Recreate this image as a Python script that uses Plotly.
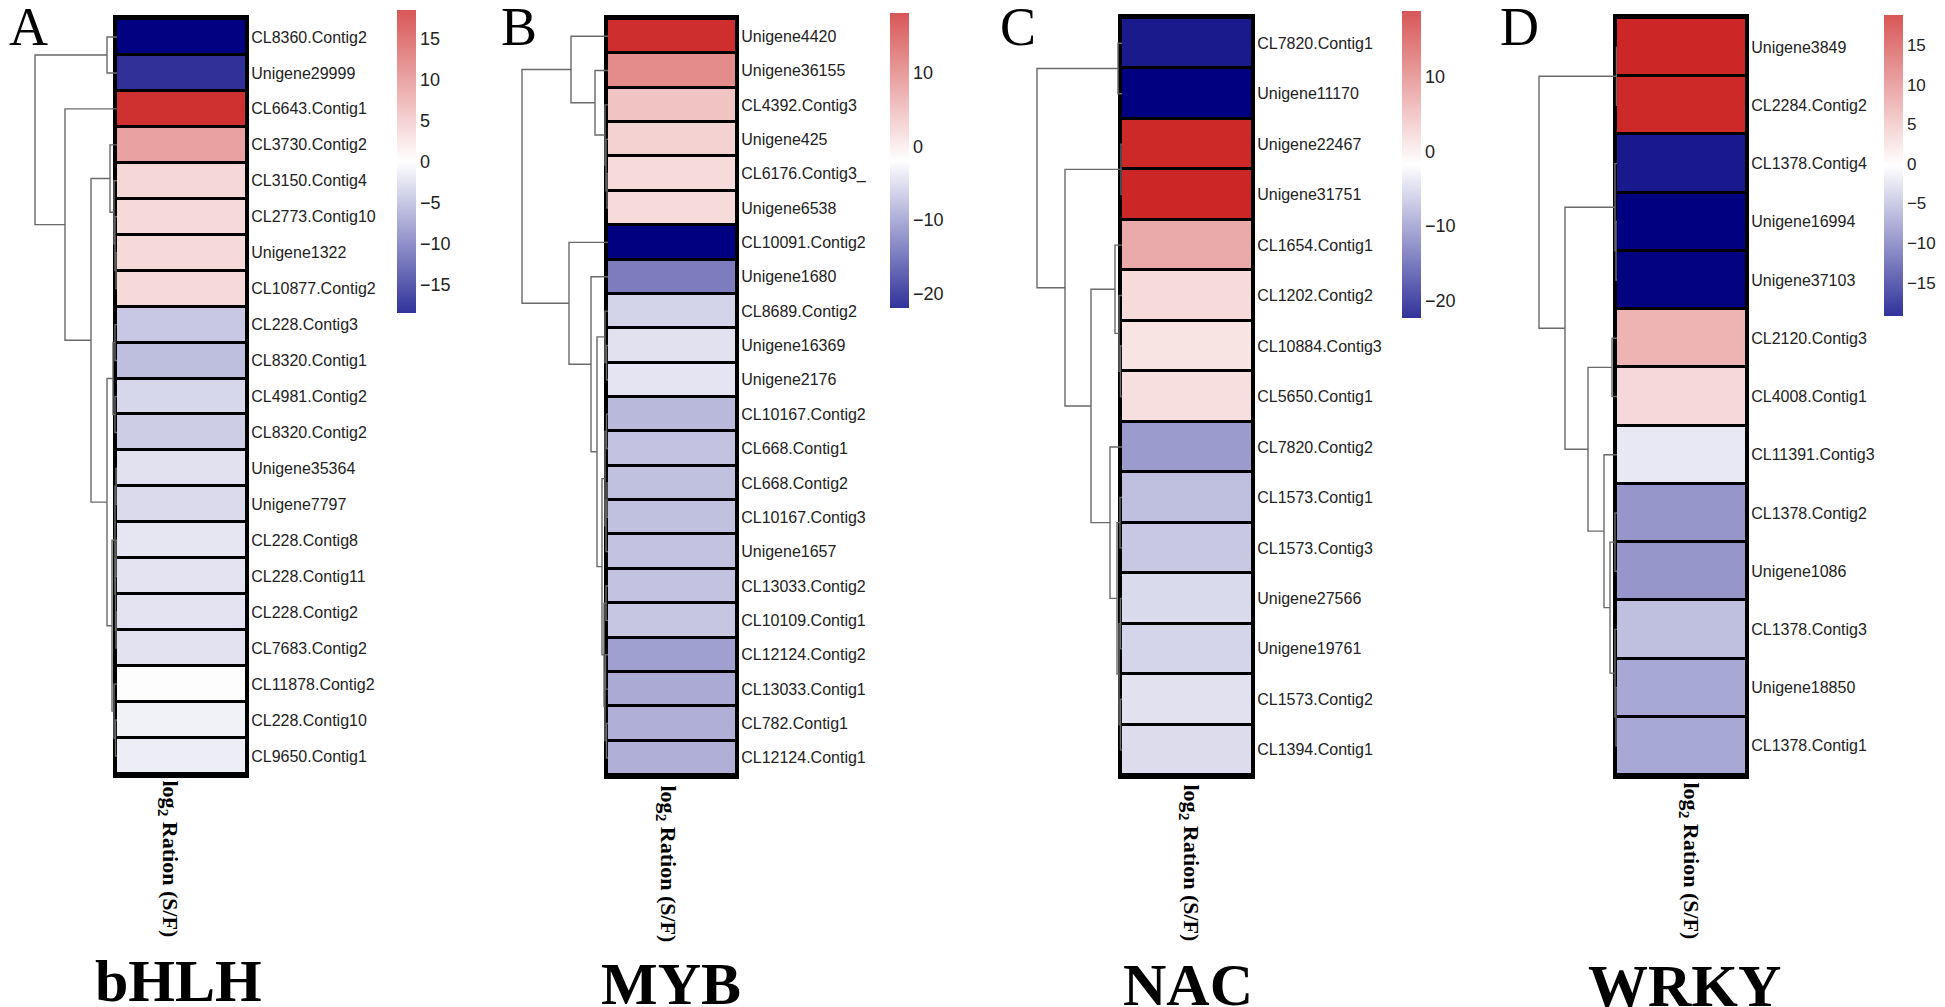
import plotly.graph_objects as go

# window is 1945x1007; the page body adds an 8px margin, so the figure is drawn 8px in
WIN_W, WIN_H = 1945, 1007
OFF = 8
W, H = WIN_W - OFF, WIN_H - OFF

# ---------------- data ----------------
A_genes = ["CL8360.Contig2", "Unigene29999", "CL6643.Contig1", "CL3730.Contig2", "CL3150.Contig4",
           "CL2773.Contig10", "Unigene1322", "CL10877.Contig2", "CL228.Contig3", "CL8320.Contig1",
           "CL4981.Contig2", "CL8320.Contig2", "Unigene35364", "Unigene7797", "CL228.Contig8",
           "CL228.Contig11", "CL228.Contig2", "CL7683.Contig2", "CL11878.Contig2", "CL228.Contig10",
           "CL9650.Contig1"]
A_vals = [-18.4, -15.0, 17.6, 8.0, 3.4, 3.2, 3.2, 3.2, -4.0, -4.7, -2.9, -3.6, -2.2, -2.7, -1.8,
          -2.0, -2.0, -2.1, 0.2, -1.0, -1.3]
A_tree = [[0, 1, 10],
          [2, [[3, [4, [5, [6, 7, 1], 2], 3], 7],
               [[[8, 9, 2], [10, 11, 2], 4],
                [[[12, 13, 1], [[14, 15, 1], [16, 17, 1], 1.5], 2],
                 [18, [19, 20, 1.5], 3], 5], 10], 26], 52], 82]

B_genes = ["Unigene4420", "Unigene36155", "CL4392.Contig3", "Unigene425", "CL6176.Contig3_",
           "Unigene6538", "CL10091.Contig2", "Unigene1680", "CL8689.Contig2", "Unigene16369",
           "Unigene2176", "CL10167.Contig2", "CL668.Contig1", "CL668.Contig2", "CL10167.Contig3",
           "Unigene1657", "CL13033.Contig2", "CL10109.Contig1", "CL12124.Contig2", "CL13033.Contig1",
           "CL782.Contig1", "CL12124.Contig1"]
B_vals = [17.5, 8.8, 3.6, 2.3, 1.5, 1.5, -22.0, -12.2, -5.4, -4.3, -4.0, -7.4, -6.6, -6.9, -6.9,
          -6.6, -6.6, -6.4, -9.4, -8.6, -8.2, -8.2]
B_tree = [[0, [1, [2, [3, [4, 5, 1], 2], 3], 13], 37],
          [6, [7, [[8, [9, 10, 1.5], 3],
                   [[[11, 12, 1.5], [[13, 14, 1], 15, 2], 3],
                    [[16, 17, 2], [[18, 19, 2.5], [20, 21, 1.5], 3], 4], 6], 11], 17], 39], 86]

C_genes = ["CL7820.Contig1", "Unigene11170", "Unigene22467", "Unigene31751", "CL1654.Contig1",
           "CL1202.Contig2", "CL10884.Contig3", "CL5650.Contig1", "CL7820.Contig2", "CL1573.Contig1",
           "CL1573.Contig3", "Unigene27566", "Unigene19761", "CL1573.Contig2", "CL1394.Contig1"]
C_vals = [-20.2, -22.3, 18.5, 18.8, 6.3, 1.7, 0.8, 1.3, -9.8, -6.9, -6.2, -4.7, -5.2, -4.2, -4.6]
C_tree = [[0, 1, 4],
          [[2, 3, 1],
           [[4, [5, [6, 7, 1.5], 3], 7],
            [8, [[9, 10, 2], [[11, 12, 1.5], [13, 14, 1.5], 3], 5], 12], 31], 57], 85]

D_genes = ["Unigene3849", "CL2284.Contig2", "CL1378.Contig4", "Unigene16994", "Unigene37103",
           "CL2120.Contig3", "CL4008.Contig1", "CL11391.Contig3", "CL1378.Contig2", "Unigene1086",
           "CL1378.Contig3", "Unigene18850", "CL1378.Contig1"]
D_vals = [18.8, 18.5, -17.3, -19.2, -19.0, 6.4, 3.2, -1.9, -8.0, -8.0, -5.0, -6.7, -6.7]
D_tree = [[0, 1, 0.5],
          [[2, [3, 4, 1], 2],
           [[5, 6, 5], [7, [[8, 9, 2], [10, [11, 12, 1], 2], 7], 13], 29], 52], 78]

panel_letters = ["A", "B", "C", "D"]
family_names = ["bHLH", "MYB", "NAC", "WRKY"]
col_label = "log<sub>2</sub> Ration (S/F)"
color_limits = [(-18.5, 18.5), (-22.0, 18.2), (-22.3, 18.8), (-19.2, 18.8)]
colorbar_ticks = [[-15, -10, -5, 0, 5, 10, 15], [-20, -10, 0, 10], [-20, -10, 0, 10],
                  [-15, -10, -5, 0, 5, 10, 15]]
dendro_span = 100  # distance units shown to the left of each heatmap

panels_genes = [A_genes, B_genes, C_genes, D_genes]
panels_vals = [A_vals, B_vals, C_vals, D_vals]
panels_trees = [A_tree, B_tree, C_tree, D_tree]

# ---------------- layout (window pixel positions) ----------------
heat_left = [117, 608, 1122, 1617]
heat_right = [245, 735, 1251, 1745]
heat_top = [19, 19, 18, 18]
heat_bottom = [774, 775, 775, 775]
cb_left = [397, 890, 1402, 1884]
cb_top = [10, 13, 11, 15]
cb_bottom = [313, 308, 318, 316]
cb_font = [18, 18, 18, 17]
letter_x = [7, 499, 998, 1498]
letter_mid_y = [27, 27, 27, 27]
label_cx = [169, 667, 1190, 1690]
label_top = [778, 783, 782, 780]
title_mid_y = [981, 984, 985, 986]

heat_scale = [[0, "#000080"], [0.5, "#ffffff"], [1, "#cd2626"]]
bar_scale = [[0, "#31339b"], [0.5, "#ffffff"], [1, "#d85757"]]


def px_x(v):
    return (v - OFF) / W


def px_y(v):
    return 1 - (v - OFF) / H


def dendro_segments(node, xs, ys):
    """Return (y_position, height) of node and append its drawing segments."""
    if isinstance(node, int):
        return float(node), 0.0
    left, right, h = node
    yl, hl = dendro_segments(left, xs, ys)
    yr, hr = dendro_segments(right, xs, ys)
    xs.extend([hl, h, h, hr, None])
    ys.extend([yl, yl, yr, yr, None])
    return (yl + yr) / 2, h


fig = go.Figure()
layout = dict(width=W, height=H, margin=dict(l=0, r=0, t=0, b=0),
              paper_bgcolor="white", plot_bgcolor="white", showlegend=False)
shapes = []
annotations = []

for p in range(4):
    genes = panels_genes[p]
    vals = panels_vals[p]
    n = len(genes)
    zmin, zmax = color_limits[p]
    hx = 2 * p + 1
    dx = 2 * p + 2
    yi = p + 1
    hx_ref = "x" if hx == 1 else f"x{hx}"
    dx_ref = f"x{dx}"
    y_ref = "y" if yi == 1 else f"y{yi}"
    hx_key = "xaxis" if hx == 1 else f"xaxis{hx}"
    dx_key = f"xaxis{dx}"
    y_key = "yaxis" if yi == 1 else f"yaxis{yi}"

    # heatmap column
    fig.add_trace(go.Heatmap(
        z=[[v] for v in vals], x=[0], y=list(range(n)),
        colorscale=heat_scale, zmin=zmin, zmax=zmax, showscale=False,
        ygap=3, xaxis=hx_ref, yaxis=y_ref, hoverinfo="skip"))

    # dendrogram
    xs, ys = [], []
    dendro_segments(panels_trees[p], xs, ys)
    fig.add_trace(go.Scatter(
        x=xs, y=ys, mode="lines", line=dict(color="#6a6a6a", width=1.4),
        xaxis=dx_ref, yaxis=y_ref, hoverinfo="skip"))

    # colour key
    fig.add_trace(go.Scatter(
        x=[None], y=[None], mode="markers", xaxis=dx_ref, yaxis=y_ref,
        marker=dict(color=[zmin, zmax], cmin=zmin, cmax=zmax, colorscale=bar_scale,
                    showscale=True,
                    colorbar=dict(
                        thickness=19, thicknessmode="pixels",
                        len=cb_bottom[p] - cb_top[p], lenmode="pixels",
                        x=px_x(cb_left[p]), xanchor="left", xpad=0,
                        y=px_y(cb_top[p]), yanchor="top", ypad=0,
                        outlinewidth=0, ticks="", tickvals=colorbar_ticks[p],
                        tickfont=dict(family="Liberation Sans, Arial", size=cb_font[p],
                                      color="#222222"))),
        hoverinfo="skip"))

    layout[hx_key] = dict(domain=[px_x(heat_left[p]), px_x(heat_right[p])], anchor=y_ref,
                          range=[-0.5, 0.5], showticklabels=False, ticks="", showgrid=False,
                          zeroline=False, showline=True, mirror=True, linewidth=4,
                          linecolor="black", fixedrange=True)
    layout[dx_key] = dict(domain=[px_x(heat_left[p] - dendro_span), px_x(heat_left[p])],
                          anchor=y_ref, range=[dendro_span, 0], visible=False,
                          showgrid=False, zeroline=False, fixedrange=True)
    layout[y_key] = dict(domain=[px_y(heat_bottom[p]), px_y(heat_top[p])], anchor=hx_ref,
                         range=[n - 0.5, -0.5], side="right", tickmode="array",
                         tickvals=list(range(n)), ticktext=genes, ticks="",
                         ticklabelstandoff=-1,
                         showgrid=False, zeroline=False, showline=True, mirror=True,
                         linewidth=4, linecolor="black", fixedrange=True,
                         tickfont=dict(family="Liberation Sans, Arial", size=16, color="#222222"))

    shapes.append(dict(type="rect", xref=f"{hx_ref} domain", yref=f"{y_ref} domain",
                       x0=0, x1=1, y0=0, y1=1, fillcolor="black", line=dict(width=0),
                       layer="below"))

    annotations.append(dict(text=panel_letters[p], xref="paper", yref="paper",
                            x=px_x(letter_x[p]), y=px_y(letter_mid_y[p]),
                            xanchor="left", yanchor="middle", showarrow=False,
                            font=dict(family="Liberation Serif, Times New Roman", size=54,
                                      color="black")))
    annotations.append(dict(text=f"<b>{col_label}</b>", xref="paper", yref="paper",
                            x=px_x(label_cx[p]), y=px_y(label_top[p]),
                            xanchor="center", yanchor="top", textangle=90, showarrow=False,
                            font=dict(family="Liberation Serif, Times New Roman", size=22,
                                      color="black")))
    annotations.append(dict(text=f"<b>{family_names[p]}</b>", xref="paper", yref="paper",
                            x=px_x((heat_left[p] + heat_right[p]) / 2 - 3 + 2 * p),
                            y=px_y(title_mid_y[p]),
                            xanchor="center", yanchor="middle", showarrow=False,
                            font=dict(family="Liberation Serif, Times New Roman", size=60,
                                      color="black")))

layout["shapes"] = shapes
layout["annotations"] = annotations
fig.update_layout(**layout)
fig.write_html("out.html")
